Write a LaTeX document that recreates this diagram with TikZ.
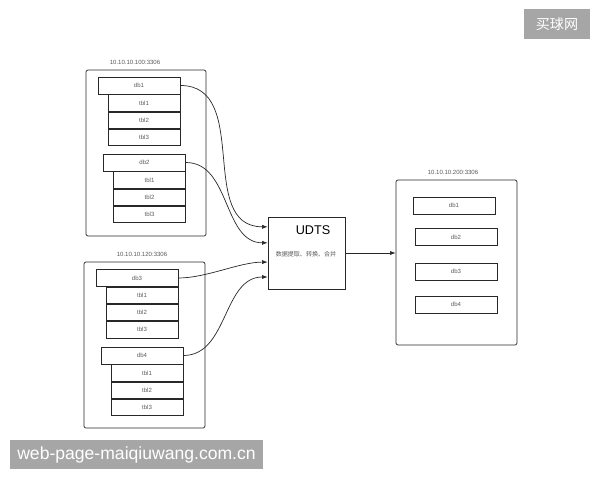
\documentclass[tikz,border=0pt]{standalone}
\usepackage{fontspec}
\setmainfont{Liberation Sans}
\newfontfamily\cjk{Noto Sans CJK SC}
\usepackage{tikz}
\usetikzlibrary{positioning,arrows.meta,calc}
\definecolor{ln}{RGB}{40,40,40}
\definecolor{tx}{RGB}{90,90,90}
\definecolor{wm}{RGB}{166,166,166}

\begin{document}
\begin{tikzpicture}[x=0.025cm,y=-0.025cm, srv/.style={draw=ln,rounded corners=1.5pt,line width=0.5pt},
  db/.style={draw=ln,line width=0.5pt,minimum width=2.05cm,minimum height=0.43cm,inner sep=0pt,text=tx,font=\fontsize{4.3}{5}\selectfont},
  tbl/.style={db,minimum width=1.8cm,minimum height=0.41cm}, ip/.style={text=tx,font=\fontsize{4.3}{5}\selectfont},
  flow/.style={draw=ln,line width=0.5pt,-{Latex[length=4pt,width=3pt]}},
  wmark/.style={fill=wm,text=white,inner sep=0pt}]
  \useasboundingbox (0,0) rectangle (600,480);
  % source servers
  \node[srv,minimum width=3cm,minimum height=4.15cm] (s1) at (146,153) {};
  \node[ip] (ip1) at (135,62) {10.10.10.100:3306};
  \node[db] (a1) at (139,85.5) {db1};
  \node[tbl,anchor=north east] (a11) at (a1.south east) {tbl1};
  \node[tbl,below=0pt of a11] (a12) {tbl2};
  \node[tbl,below=0pt of a12] (a13) {tbl3};
  \node[db] (a2) at (144.5,162.5) {db2};
  \node[tbl,anchor=north east] (a21) at (a2.south east) {tbl1};
  \node[tbl,below=0pt of a21] (a22) {tbl2};
  \node[tbl,below=0pt of a22] (a23) {tbl3};

  \node[srv,minimum width=3.025cm,minimum height=4.15cm] (s2) at (144.5,345) {};
  \node[ip] (ip2) at (142,254) {10.10.10.120:3306};
  \node[db] (a3) at (137,278) {db3};
  \node[tbl,anchor=north east] (a31) at (a3.south east) {tbl1};
  \node[tbl,below=0pt of a31] (a32) {tbl2};
  \node[tbl,below=0pt of a32] (a33) {tbl3};
  \node[db] (a4) at (142,355.5) {db4};
  \node[tbl,anchor=north east] (a41) at (a4.south east) {tbl1};
  \node[tbl,below=0pt of a41] (a42) {tbl2};
  \node[tbl,below=0pt of a42] (a43) {tbl3};

  % udts
  \node[draw=ln,line width=0.5pt,minimum width=1.925cm,minimum height=1.8cm] (u) at (306.5,253) {};
  \node[font=\fontsize{9}{10}\selectfont] (ut) at (313,230) {UDTS};
  \node[text=tx,font=\cjk\fontsize{4.3}{5}\selectfont] (ud) at (306,254) {数据提取、转换、合并};
  \coordinate (in1) at ($(u.north west)!0.14!(u.south west)$);
  \coordinate (in2) at ($(u.north west)!0.36!(u.south west)$);
  \coordinate (in3) at ($(u.north west)!0.625!(u.south west)$);
  \coordinate (in4) at ($(u.north west)!0.83!(u.south west)$);

  % target server
  \node[srv,minimum width=3.025cm,minimum height=4.125cm] (s3) at (456.5,262.5) {};
  \node[ip] (ip3) at (453,172) {10.10.10.200:3306};
  \node[db] (b1) at (454,205.5) {db1};
  \node[db] (b2) at (456,237) {db2};
  \node[db] (b3) at (456,271.5) {db3};
  \node[db] (b4) at (456,304.5) {db4};

  \draw[flow] (a1.east) to[out=0,in=180,looseness=1.1] (in1);
  \draw[flow] (a2.east) to[out=0,in=180] (in2);
  \draw[flow] (a3.east) to[out=0,in=180,looseness=0.8] (in3);
  \draw[flow] (a4.east) to[out=0,in=180] (in4);
  \draw[flow] (u.east) -- (u.east -| s3.west);

  % watermarks
  \node[wmark,minimum width=1.65cm,minimum height=0.75cm,font=\cjk\fontsize{10}{11}\selectfont] (w1) at (557,24) {买球网};
  \node[wmark,minimum width=6.325cm,minimum height=0.725cm,font=\fontsize{12.5}{13}\selectfont] (w2) at (136.5,454.5) {web-page-maiqiuwang.com.cn};
\end{tikzpicture}
\end{document}
